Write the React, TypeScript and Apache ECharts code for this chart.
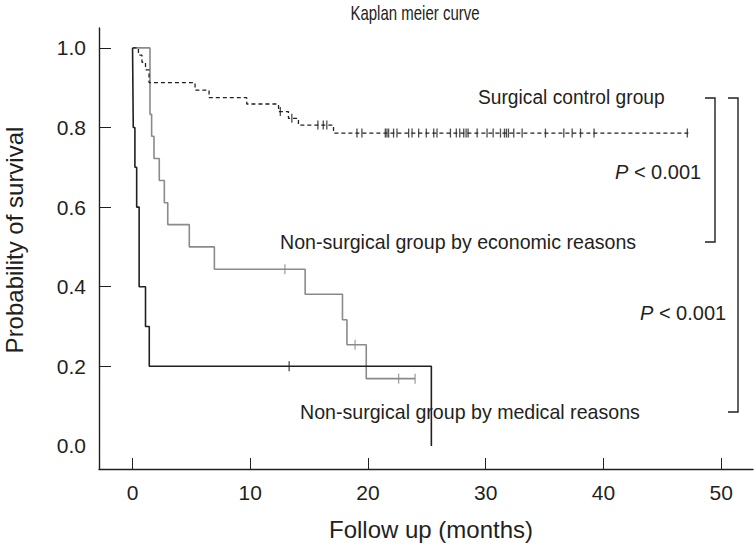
import React, { useEffect, useRef } from "react";
import * as echarts from "echarts";

// ---- Data ----
// Surgical control group (dashed)
const surgTimes = [0, 0.5, 0.8, 1.1, 1.4, 5.31, 6.5, 9.7, 12.4, 13.24, 14.09, 17.07, 47.3];
const surgSurv = [1, 0.982, 0.964, 0.945, 0.913, 0.894, 0.875, 0.859, 0.84, 0.823, 0.806, 0.786, 0.786];
const surgCensor = [12.55, 13.53, 15.74, 16.2, 16.5, 19.06, 19.48, 21.47, 21.61, 21.75, 22.17, 22.46, 23.45, 23.74, 24.3, 24.95, 25.58, 25.86, 27.0, 27.5, 27.79, 28.13, 28.33, 28.5, 29.27, 30.11, 30.63, 31.25, 31.59, 31.76, 31.93, 32.38, 33.09, 35.07, 36.63, 37.34, 38.05, 39.2, 47.12];

// Non-surgical group by economic reasons (grey)
const econTimes = [0, 1.48, 1.62, 1.82, 2.27, 2.7, 2.99, 4.82, 6.95, 14.66, 17.83, 18.21, 19.85, 24.0];
const econSurv = [1, 0.833, 0.778, 0.722, 0.667, 0.611, 0.556, 0.5, 0.444, 0.381, 0.317, 0.254, 0.169, 0.169];
const econCensor = [12.94, 18.9, 22.6, 24.0];

// Non-surgical group by medical reasons (black)
const medTimes = [0, 0.06, 0.2, 0.35, 0.56, 1.1, 1.42, 25.38];
const medSurv = [1, 0.8, 0.7, 0.6, 0.4, 0.3, 0.2, 0];
const medCensor = [13.3];

const xTicks = [0, 10, 20, 30, 40, 50];
const yLabels = [0, 0.2, 0.4, 0.6, 0.8, 1.0];
const yTicks = [0.2, 0.4, 0.6, 0.8, 1.0];

const FONT = "'Liberation Sans', Arial, Helvetica, sans-serif";
const INK = "#231f20";
const GREY = "#8a8a8a";

function survAt(times: number[], surv: number[], t: number) {
  let s = surv[0];
  for (let i = 0; i < times.length; i++) if (times[i] <= t) s = surv[i];
  return s;
}
const pairs = (a: number[], b: number[]) => a.map((t, i) => [t, b[i]]);
const censorPts = (c: number[], times: number[], surv: number[]) => c.map((t) => [t, survAt(times, surv, t)]);

export default function App() {
  const ref = useRef<HTMLDivElement>(null);
  useEffect(() => {
    if (!ref.current) return;
    const chart = echarts.init(ref.current, null, { renderer: "svg" });
    const txt = (text: string, x: number, y: number, size: number, align = "left", sx = 1) => ({
      type: "text",
      x,
      y,
      scaleX: sx,
      style: { text, fontFamily: FONT, fontSize: size, fill: INK, align, verticalAlign: "middle" },
    });
    const pText = (x: number, y: number) => ({
      type: "text",
      x,
      y,
      style: {
        text: "{i|P} < 0.001",
        fontFamily: FONT,
        fontSize: 20,
        fill: INK,
        align: "left",
        verticalAlign: "middle",
        rich: { i: { fontStyle: "italic", fontFamily: FONT, fontSize: 20, fill: INK } },
      },
    });
    const bracket = (x1: number, x2: number, y1: number, y2: number) => ({
      type: "polyline",
      shape: { points: [[x1, y1], [x2, y1], [x2, y2], [x1, y2]] },
      style: { stroke: INK, lineWidth: 1.4, fill: null },
    });
    chart.setOption({
      animation: false,
      backgroundColor: "#ffffff",
      grid: { left: 99, right: 3, top: 28, bottom: 78, containLabel: false },
      xAxis: {
        type: "value",
        min: -2.85,
        max: 52.7,
        splitLine: { show: false },
        axisLine: { show: true, onZero: false, lineStyle: { color: INK, width: 1.4 } },
        axisTick: { show: true, inside: true, length: 11, customValues: xTicks, lineStyle: { color: INK, width: 1 } },
        axisLabel: { customValues: xTicks, margin: 13, fontFamily: FONT, fontSize: 21, color: INK },
      },
      yAxis: {
        type: "value",
        min: -0.058,
        max: 1.05,
        splitLine: { show: false },
        axisLine: { show: true, onZero: false, lineStyle: { color: INK, width: 1.4 } },
        axisTick: { show: true, inside: true, length: 12, customValues: yTicks, lineStyle: { color: INK, width: 1 } },
        axisLabel: {
          customValues: yLabels,
          margin: 13,
          fontFamily: FONT,
          fontSize: 21,
          color: INK,
          formatter: (v: number) => v.toFixed(1),
        },
      },
      series: [
        {
          type: "line",
          step: "end",
          data: pairs(surgTimes, surgSurv),
          showSymbol: false,
          lineStyle: { color: INK, width: 1.3, type: [4, 3] },
          z: 3,
        },
        {
          type: "line",
          step: "end",
          data: pairs(econTimes, econSurv),
          showSymbol: false,
          lineStyle: { color: GREY, width: 1.6 },
          z: 2,
        },
        {
          type: "line",
          step: "end",
          data: pairs(medTimes, medSurv),
          showSymbol: false,
          lineStyle: { color: INK, width: 1.6 },
          z: 2,
        },
        {
          type: "scatter",
          data: censorPts(surgCensor, surgTimes, surgSurv),
          symbol: "rect",
          symbolSize: [1.3, 9],
          itemStyle: { color: INK },
          z: 4,
        },
        {
          type: "scatter",
          data: censorPts(econCensor, econTimes, econSurv),
          symbol: "rect",
          symbolSize: [1.3, 10],
          itemStyle: { color: GREY },
          z: 4,
        },
        {
          type: "scatter",
          data: censorPts(medCensor, medTimes, medSurv),
          symbol: "rect",
          symbolSize: [1.3, 10],
          itemStyle: { color: INK },
          z: 4,
        },
      ],
      graphic: [
        txt("Kaplan meier curve", 415, 13, 20, "center", 0.75),
        txt("Follow up (months)", 431, 529, 24, "center"),
        { type: "text", x: 14, y: 240, rotation: Math.PI / 2, style: { text: "Probability of survival", fontFamily: FONT, fontSize: 24, fill: INK, align: "center", verticalAlign: "middle" } },
        txt("Surgical control group", 478, 97, 20, "left", 0.96),
        txt("Non-surgical group by economic reasons", 280, 242, 20, "left", 0.98),
        txt("Non-surgical group by medical reasons", 300, 412, 20, "left", 0.98),
        pText(615, 172),
        pText(640, 313),
        bracket(705, 715, 98, 242),
        bracket(728, 738, 98, 412),
      ],
    });
    return () => chart.dispose();
  }, []);
  return <div ref={ref} style={{ position: "absolute", left: 0, top: 0, width: 756, height: 547 }} />;
}
